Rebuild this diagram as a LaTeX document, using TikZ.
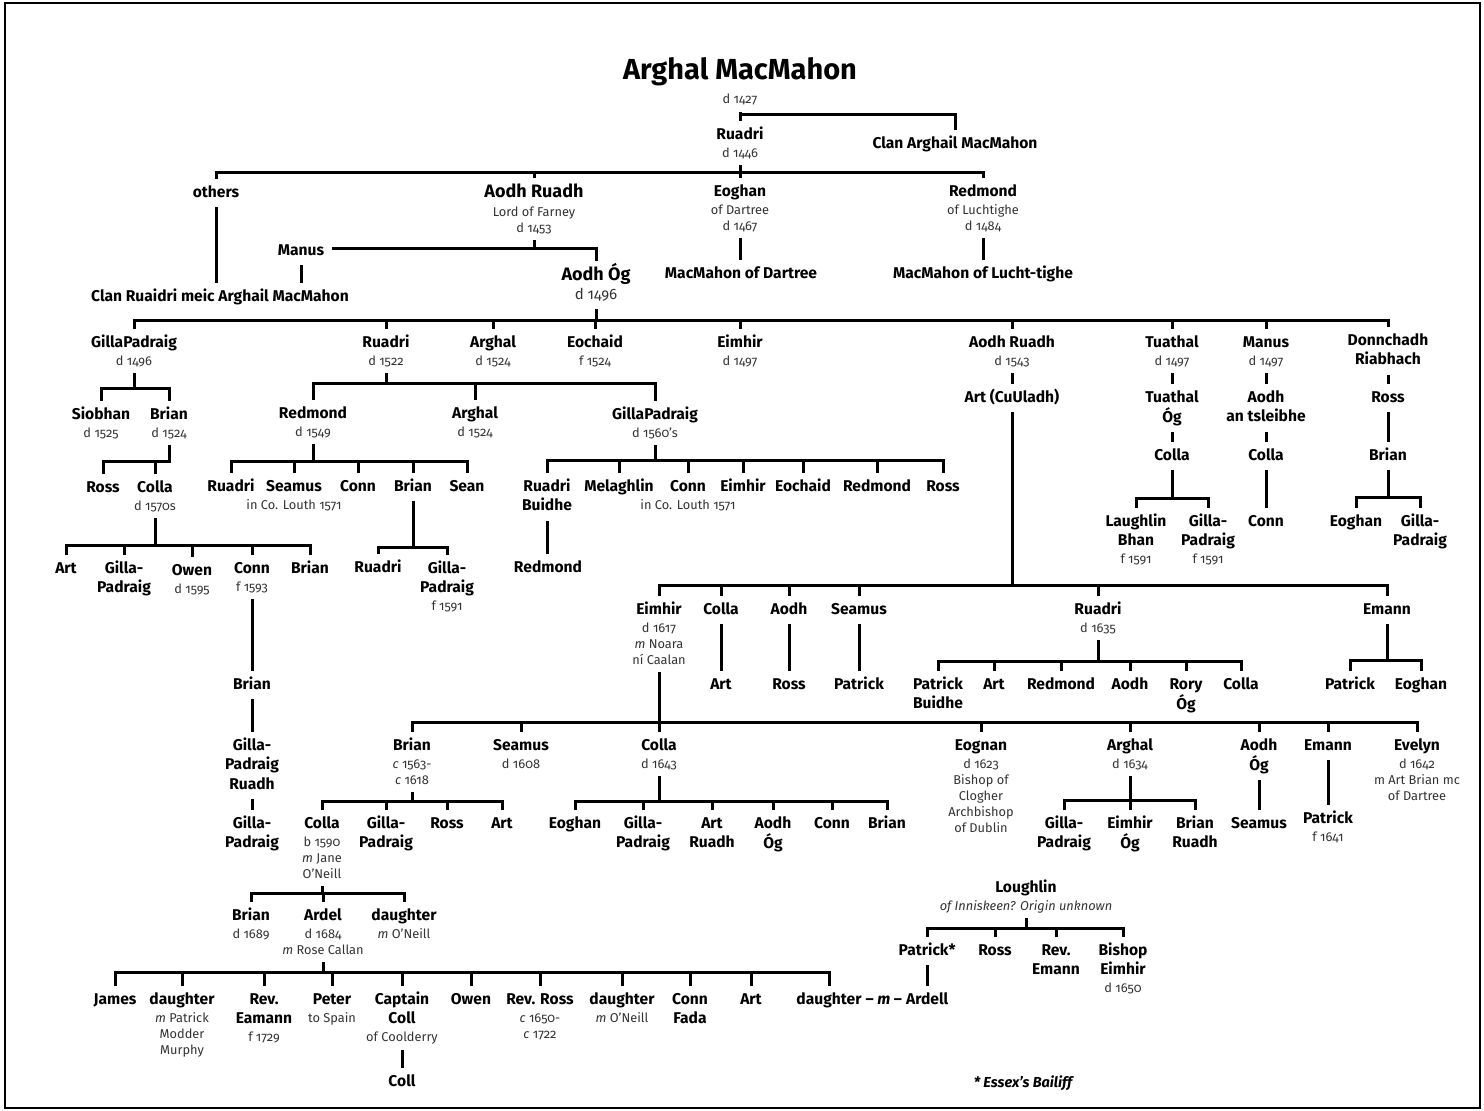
\documentclass[tikz,border=0pt]{standalone}
\usepackage{fontspec}
\setmainfont{Fira Sans}[Numbers=OldStyle]
\renewcommand{\arraystretch}{0}
\definecolor{subc}{HTML}{333333}
% text rows of a person node: first name line, further name lines, sub lines
\newcommand\nmfont{\fontsize{15.6}{18}\selectfont\bfseries}
\newcommand\sbfont{\fontsize{12.8}{15}\selectfont\color{subc}}
\newcommand\pN[1]{{\nmfont\rule[-5.5pt]{0pt}{23.5pt}#1}\\}
\newcommand\pM[1]{{\nmfont\rule[-5.5pt]{0pt}{19.5pt}#1}\\}
\newcommand\pS[1]{{\sbfont\rule[-3.5pt]{0pt}{16pt}#1}\\}
\newcommand\pB[1]{{\fontsize{18}{21}\selectfont\bfseries\rule[-6pt]{0pt}{26pt}#1}\\}
\newcommand\pT[1]{{\fontsize{15}{18}\selectfont\color{subc}\rule[-5pt]{0pt}{18pt}#1}\\}
\newcommand\pH[1]{{\fontsize{29}{34}\selectfont\bfseries\rule[-12pt]{0pt}{36pt}#1}\\}
\newcommand\pF[1]{{\fontsize{14.5}{17}\selectfont\bfseries\itshape\rule[-5.5pt]{0pt}{23.5pt}#1}\\}
\newcommand\pp[1]{\begin{tabular}[t]{@{}c@{}}#1\end{tabular}}
% connectors
\newcommand\famline[4]{\draw[dr] (#1.south) -- (#1.south |- 0,#2);
  \draw[ln] (#3.north) |- (#4.north |- 0,#2) -- (#4.north);}
\newcommand\drops[2]{\foreach \ch in {#2}{\draw[ln] (\ch.north) -- (\ch.north |- 0,#1);}}
\newcommand\link[2]{\draw[dr] (#1.south) -- (#1.south |- #2.north);}
\begin{document}
\begin{tikzpicture}[x=1pt,y=-1pt,
  ln/.style={line width=3pt, line join=miter},
  dr/.style={ln, shorten <=4.5pt},
  pers/.style={anchor=base, inner sep=0pt, outer sep=0pt}]
\useasboundingbox (0,0) rectangle (1484,1111);
\draw[line width=2pt] (5,3) rectangle (1480,1108);

% ---- founders
\node[pers] (title) at (740,79) {\pp{\pH{Arghal MacMahon}\pS{d 1427}}};
\node[pers] (ruadriA) at (740,139) {\pp{\pN{Ruadri}\pS{d 1446}}};
\node[pers] (clanA) at (955,148) {\pp{\pN{Clan Arghail MacMahon}}};
\node[pers] (others) at (216,197) {\pp{\pN{others}}};
\node[pers] (aodhR) at (534,197.5) {\pp{\pB{Aodh Ruadh}\pS{Lord of Farney}\pS{d 1453}}};
\node[pers] (eoghanA) at (740,196) {\pp{\pN{Eoghan}\pS{of Dartree}\pS{d 1467}}};
\node[pers] (redmondA) at (983,196) {\pp{\pN{Redmond}\pS{of Luchtighe}\pS{d 1484}}};
\node[pers] (manus) at (301,255) {\pp{\pN{Manus}}};
\node[pers] (clanR) at (220,301) {\pp{\pN{Clan Ruaidri meic Arghail MacMahon}}};
\node[pers] (aodhOg) at (596,280.5) {\pp{\pB{Aodh Óg}\pT{d 1496}}};
\node[pers] (mDart) at (741,278) {\pp{\pN{MacMahon of Dartree}}};
\node[pers] (mLucht) at (983,278) {\pp{\pN{MacMahon of Lucht-tighe}}};

\draw[dr] (title.south) -- (title.south |- 0,114);
\draw[ln] (ruadriA.north) |- (clanA.north |- 0,114) -- (clanA.north);
\famline{ruadriA}{172}{others}{redmondA}
\drops{172}{aodhR,eoghanA}
\draw[dr] (aodhR.south) -- (aodhR.south |- manus.east);
\draw[ln,shorten <=8pt] (manus.east) -| (aodhOg.north);
\link{others}{clanR}
\link{manus}{clanR}
\link{eoghanA}{mDart}
\link{redmondA}{mLucht}

% ---- sons of Aodh Og
\node[pers] (gpA) at (134,347) {\pp{\pN{GillaPadraig}\pS{d 1496}}};
\node[pers] (ruadriB) at (386,347) {\pp{\pN{Ruadri}\pS{d 1522}}};
\node[pers] (arghalB) at (493,347) {\pp{\pN{Arghal}\pS{d 1524}}};
\node[pers] (eochaidA) at (595,347) {\pp{\pN{Eochaid}\pS{f 1524}}};
\node[pers] (eimhirA) at (740,347) {\pp{\pN{Eimhir}\pS{d 1497}}};
\node[pers] (aodhR2) at (1012,347) {\pp{\pN{Aodh Ruadh}\pS{d 1543}}};
\node[pers] (tuathal) at (1172,347) {\pp{\pN{Tuathal}\pS{d 1497}}};
\node[pers] (manusB) at (1266,347) {\pp{\pN{Manus}\pS{d 1497}}};
\node[pers] (donn) at (1388,345) {\pp{\pN{Donnchadh}\pM{Riabhach}}};
\famline{aodhOg}{320}{gpA}{donn}
\drops{320}{ruadriB,arghalB,eochaidA,eimhirA,aodhR2,tuathal,manusB}

% ---- GillaPadraig line
\node[pers] (siobhan) at (101,419) {\pp{\pN{Siobhan}\pS{d 1525}}};
\node[pers] (brianB) at (169,419) {\pp{\pN{Brian}\pS{d 1524}}};
\famline{gpA}{388}{siobhan}{brianB}
\node[pers] (rossA) at (103,492) {\pp{\pN{Ross}}};
\node[pers] (collaA) at (155,492) {\pp{\pN{Colla}\pS{d 1570s}}};
\draw[dr] (brianB.south) -- (brianB.south |- 0,461) -| (rossA.north);
\drops{461}{collaA}
\node[pers] (artA) at (66,573) {\pp{\pN{Art}}};
\node[pers] (gpC) at (124,573) {\pp{\pN{Gilla-}\pM{Padraig}}};
\node[pers] (owenA) at (192,575) {\pp{\pN{Owen}\pS{d 1595}}};
\node[pers] (connA) at (252,573) {\pp{\pN{Conn}\pS{f 1593}}};
\node[pers] (brianD) at (310,573) {\pp{\pN{Brian}}};
\famline{collaA}{545}{artA}{brianD}
\drops{545}{gpC,owenA,connA}
\node[pers] (brianE) at (252,689) {\pp{\pN{Brian}}};
\node[pers] (gpRuadh) at (252,750) {\pp{\pN{Gilla-}\pM{Padraig}\pM{Ruadh}}};
\node[pers] (gpF) at (252,828) {\pp{\pN{Gilla-}\pM{Padraig}}};
\link{connA}{brianE}
\link{brianE}{gpRuadh}
\link{gpRuadh}{gpF}

% ---- Ruadri d 1522 line
\node[pers] (redmondB) at (313,418) {\pp{\pN{Redmond}\pS{d 1549}}};
\node[pers] (arghalC) at (475,418) {\pp{\pN{Arghal}\pS{d 1524}}};
\node[pers] (gpB) at (655,419) {\pp{\pN{GillaPadraig}\pS{d 1560’s}}};
\famline{ruadriB}{383}{redmondB}{gpB}
\drops{383}{arghalC}
\node[pers] (ruadriC) at (231,491) {\pp{\pN{Ruadri}}};
\node[pers] (seamusC) at (294,491) {\pp{\pN{Seamus}\pS{in Co. Louth 1571}}};
\node[pers] (connC) at (358,491) {\pp{\pN{Conn}}};
\node[pers] (brianC) at (413,491) {\pp{\pN{Brian}}};
\node[pers] (seanC) at (467,491) {\pp{\pN{Sean}}};
\famline{redmondB}{461}{ruadriC}{seanC}
\drops{461}{seamusC,connC,brianC}
\node[pers] (ruadriD) at (378,572) {\pp{\pN{Ruadri}}};
\node[pers] (gpE) at (447,573) {\pp{\pN{Gilla-}\pM{Padraig}\pS{f 1591}}};
\famline{brianC}{547}{ruadriD}{gpE}
\node[pers] (ruadriBu) at (547,491) {\pp{\pN{Ruadri}\pM{Buidhe}}};
\node[pers] (melaghlin) at (619,491) {\pp{\pN{Melaghlin}}};
\node[pers] (connD) at (688,491) {\pp{\pN{Conn}\pS{in Co. Louth 1571}}};
\node[pers] (eimhirB) at (743,491) {\pp{\pN{Eimhir}}};
\node[pers] (eochaidB) at (803,491) {\pp{\pN{Eochaid}}};
\node[pers] (redmondC) at (877,491) {\pp{\pN{Redmond}}};
\node[pers] (rossB) at (943,491) {\pp{\pN{Ross}}};
\famline{gpB}{460}{ruadriBu}{rossB}
\drops{460}{melaghlin,connD,eimhirB,eochaidB,redmondC}
\node[pers] (redmondE) at (548,572) {\pp{\pN{Redmond}}};
\link{ruadriBu}{redmondE}

% ---- Tuathal, Manus, Donnchadh lines
\node[pers] (tuathalOg) at (1172,402) {\pp{\pN{Tuathal}\pM{Óg}}};
\node[pers] (aodhTs) at (1266,402) {\pp{\pN{Aodh}\pM{an tsleibhe}}};
\node[pers] (rossT) at (1388,402) {\pp{\pN{Ross}}};
\link{tuathal}{tuathalOg}
\link{manusB}{aodhTs}
\link{donn}{rossT}
\node[pers] (collaT) at (1172,460) {\pp{\pN{Colla}}};
\node[pers] (collaM) at (1266,460) {\pp{\pN{Colla}}};
\node[pers] (brianT) at (1388,460) {\pp{\pN{Brian}}};
\link{tuathalOg}{collaT}
\link{aodhTs}{collaM}
\link{rossT}{brianT}
\node[pers] (laughlin) at (1136,526) {\pp{\pN{Laughlin}\pM{Bhan}\pS{f 1591}}};
\node[pers] (gpT) at (1208,526) {\pp{\pN{Gilla-}\pM{Padraig}\pS{f 1591}}};
\famline{collaT}{498}{laughlin}{gpT}
\node[pers] (connM) at (1266,526) {\pp{\pN{Conn}}};
\link{collaM}{connM}
\node[pers] (eoghanT) at (1356,526) {\pp{\pN{Eoghan}}};
\node[pers] (gpD) at (1420,526) {\pp{\pN{Gilla-}\pM{Padraig}}};
\famline{brianT}{497}{eoghanT}{gpD}

% ---- Aodh Ruadh d 1543 line
\node[pers] (artCu) at (1012,402) {\pp{\pN{Art (CuUladh)}}};
\link{aodhR2}{artCu}
\node[pers] (eimhirD) at (659,614) {\pp{\pN{Eimhir}\pS{d 1617}\pS{\emph{m} Noara}\pS{ní Caalan}}};
\node[pers] (collaB) at (721,614) {\pp{\pN{Colla}}};
\node[pers] (aodhB) at (789,614) {\pp{\pN{Aodh}}};
\node[pers] (seamusD) at (859,614) {\pp{\pN{Seamus}}};
\node[pers] (ruadriE) at (1098,614) {\pp{\pN{Ruadri}\pS{d 1635}}};
\node[pers] (emannA) at (1387,614) {\pp{\pN{Emann}}};
\famline{artCu}{585}{eimhirD}{emannA}
\drops{585}{collaB,aodhB,seamusD,ruadriE}
\node[pers] (artB) at (721,689) {\pp{\pN{Art}}};
\node[pers] (rossC) at (789,689) {\pp{\pN{Ross}}};
\node[pers] (patrickA) at (859,689) {\pp{\pN{Patrick}}};
\link{collaB}{artB}
\link{aodhB}{rossC}
\link{seamusD}{patrickA}
\node[pers] (patrickB) at (938,689) {\pp{\pN{Patrick}\pM{Buidhe}}};
\node[pers] (artC) at (994,689) {\pp{\pN{Art}}};
\node[pers] (redmondD) at (1061,689) {\pp{\pN{Redmond}}};
\node[pers] (aodhC) at (1130,689) {\pp{\pN{Aodh}}};
\node[pers] (rory) at (1186,689) {\pp{\pN{Rory}\pM{Óg}}};
\node[pers] (collaC) at (1241,689) {\pp{\pN{Colla}}};
\famline{ruadriE}{661}{patrickB}{collaC}
\drops{661}{artC,redmondD,aodhC,rory}
\node[pers] (patrickC) at (1350,689) {\pp{\pN{Patrick}}};
\node[pers] (eoghanB) at (1421,689) {\pp{\pN{Eoghan}}};
\famline{emannA}{660}{patrickC}{eoghanB}

% ---- sons of Eimhir d 1617
\node[pers] (brianF) at (412,750) {\pp{\pN{Brian}\pS{\emph{c} 1563-}\pS{\emph{c} 1618}}};
\node[pers] (seamusE) at (521,750) {\pp{\pN{Seamus}\pS{d 1608}}};
\node[pers] (collaD) at (659,750) {\pp{\pN{Colla}\pS{d 1643}}};
\node[pers] (eognan) at (981,750) {\pp{\pN{Eognan}\pS{d 1623}\pS{Bishop of}\pS{Clogher}\pS{Archbishop}\pS{of Dublin}}};
\node[pers] (arghalD) at (1130,750) {\pp{\pN{Arghal}\pS{d 1634}}};
\node[pers] (aodhOg2) at (1259,750) {\pp{\pN{Aodh}\pM{Óg}}};
\node[pers] (emannB) at (1328,750) {\pp{\pN{Emann}}};
\node[pers] (evelyn) at (1417,750) {\pp{\pN{Evelyn}\pS{d 1642}\pS{m Art Brian mc}\pS{of Dartree}}};
\famline{eimhirD}{722}{brianF}{evelyn}
\drops{722}{seamusE,collaD,eognan,arghalD,aodhOg2,emannB}

\node[pers] (collaE) at (322,828) {\pp{\pN{Colla}\pS{b 1590}\pS{\emph{m} Jane}\pS{O’Neill}}};
\node[pers] (gpG) at (386,828) {\pp{\pN{Gilla-}\pM{Padraig}}};
\node[pers] (rossD) at (447,828) {\pp{\pN{Ross}}};
\node[pers] (artD) at (502,828) {\pp{\pN{Art}}};
\famline{brianF}{801}{collaE}{artD}
\drops{801}{gpG,rossD}
\node[pers] (eoghanC) at (575,828) {\pp{\pN{Eoghan}}};
\node[pers] (gpH) at (643,828) {\pp{\pN{Gilla-}\pM{Padraig}}};
\node[pers] (artRuadh) at (712,828) {\pp{\pN{Art}\pM{Ruadh}}};
\node[pers] (aodhOg3) at (773,828) {\pp{\pN{Aodh}\pM{Óg}}};
\node[pers] (connE) at (832,828) {\pp{\pN{Conn}}};
\node[pers] (brianG) at (887,828) {\pp{\pN{Brian}}};
\famline{collaD}{801}{eoghanC}{brianG}
\drops{801}{gpH,artRuadh,aodhOg3,connE}
\node[pers] (gpI) at (1064,828) {\pp{\pN{Gilla-}\pM{Padraig}}};
\node[pers] (eimhirOg) at (1130,828) {\pp{\pN{Eimhir}\pM{Óg}}};
\node[pers] (brianRuadh) at (1195,828) {\pp{\pN{Brian}\pM{Ruadh}}};
\famline{arghalD}{800}{gpI}{brianRuadh}
\drops{800}{eimhirOg}
\node[pers] (seamusF) at (1259,828) {\pp{\pN{Seamus}}};
\link{aodhOg2}{seamusF}
\node[pers] (patrickD) at (1328,823) {\pp{\pN{Patrick}\pS{f 1641}}};
\link{emannB}{patrickD}

% ---- Colla b 1590 line
\node[pers] (brianH) at (251,920) {\pp{\pN{Brian}\pS{d 1689}}};
\node[pers] (ardel) at (323,920) {\pp{\pN{Ardel}\pS{d 1684}\pS{\emph{m} Rose Callan}}};
\node[pers] (daughterA) at (404,920) {\pp{\pN{daughter}\pS{\emph{m} O’Neill}}};
\famline{collaE}{893}{brianH}{daughterA}
\drops{893}{ardel}

\node[pers] (james) at (115,1004) {\pp{\pN{James}}};
\node[pers] (daughterB) at (182,1004) {\pp{\pN{daughter}\pS{\emph{m} Patrick}\pS{Modder}\pS{Murphy}}};
\node[pers] (revEamann) at (264,1004) {\pp{\pN{Rev.}\pM{Eamann}\pS{f 1729}}};
\node[pers] (peter) at (332,1004) {\pp{\pN{Peter}\pS{to Spain}}};
\node[pers] (captain) at (402,1004) {\pp{\pN{Captain}\pM{Coll}\pS{of Coolderry}}};
\node[pers] (owenB) at (471,1004) {\pp{\pN{Owen}}};
\node[pers] (revRoss) at (540,1004) {\pp{\pN{Rev. Ross}\pS{\emph{c} 1650-}\pS{\emph{c} 1722}}};
\node[pers] (daughterC) at (622,1004) {\pp{\pN{daughter}\pS{\emph{m} O’Neill}}};
\node[pers] (connFada) at (690,1004) {\pp{\pN{Conn}\pM{Fada}}};
\node[pers] (artE) at (751,1004) {\pp{\pN{Art}}};
\node[pers] (daughterD) at (829,1004) {\pp{\pN{daughter}}};
\node[pers,anchor=base west] (marr) at ([xshift=4pt]daughterD.base east) {\pp{\pN{– \emph{m} –}}};
\node[pers,anchor=base west] (ardell) at ([xshift=4pt]marr.base east) {\pp{\pN{Ardell}}};
\famline{ardel}{972}{james}{daughterD}
\drops{972}{daughterB,revEamann,peter,captain,owenB,revRoss,daughterC,connFada,artE}
\node[pers] (coll) at (402,1086) {\pp{\pN{Coll}}};
\link{captain}{coll}

% ---- Loughlin
\node[pers] (loughlin) at (1026,892) {\pp{\pN{Loughlin}\pS{\itshape of Inniskeen? Origin unknown}}};
\node[pers] (patrickE) at (ardell.base |- 0,955) {\pp{\pN{Patrick*}}};
\node[pers] (rossE) at (995,955) {\pp{\pN{Ross}}};
\node[pers] (revEmann) at (1056,955) {\pp{\pN{Rev.}\pM{Emann}}};
\node[pers] (bishop) at (1123,955) {\pp{\pN{Bishop}\pM{Eimhir}\pS{d 1650}}};
\famline{loughlin}{928}{patrickE}{bishop}
\drops{928}{rossE,revEmann}
\link{patrickE}{ardell}

\node[pers] (foot) at (1023,1087) {\pp{\pF{* Essex’s Bailiff}}};
\end{tikzpicture}
\end{document}
